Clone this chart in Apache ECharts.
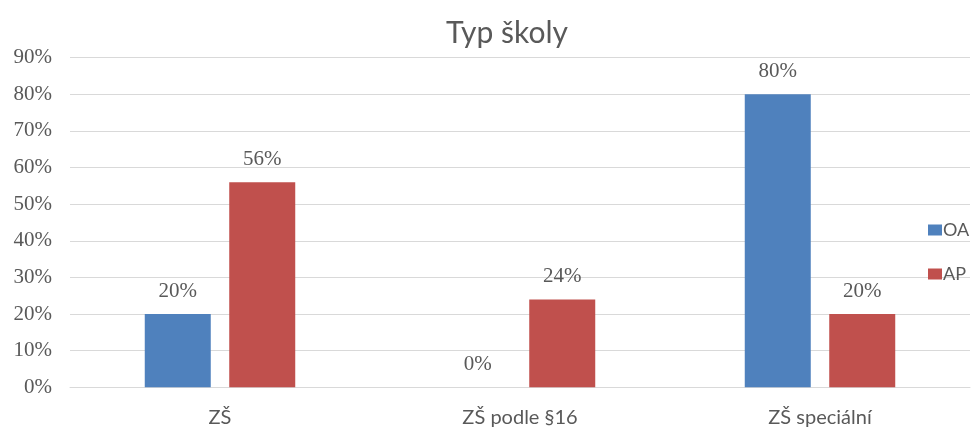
<!DOCTYPE html>
<html>
<head>
<meta charset="utf-8">
<script src="https://cdn.jsdelivr.net/npm/echarts@6/dist/echarts.min.js"></script>
<style>
  html, body { margin: 0; padding: 0; background: #fff; }
  #chart { width: 971px; height: 429px; }
</style>
</head>
<body>
<div id="chart"></div>
<script>
const categories = ["ZŠ", "ZŠ podle §16", "ZŠ speciální"];
const oaValues = [20, 0, 80];
const apValues = [56, 24, 20];
const seriesNames = ["OA", "AP"];

const textColor = "#595959";
const sansFont = "Lato";
const serifFont = "Liberation Serif";

const barLabel = {
  show: true,
  position: "top",
  distance: 12,
  color: textColor,
  fontFamily: serifFont,
  fontSize: 21,
  formatter: (p) => p.value + "%"
};

const chart = echarts.init(document.getElementById("chart"));
chart.setOption({
  animation: false,
  title: {
    text: "Typ školy",
    left: 441,
    top: 13,
    textStyle: {
      color: textColor,
      fontFamily: sansFont,
      fontWeight: "normal",
      fontSize: 30
    }
  },
  legend: {
    data: seriesNames,
    orient: "vertical",
    left: 923,
    top: 216,
    icon: "rect",
    itemWidth: 14,
    itemHeight: 11,
    itemGap: 26,
    textStyle: {
      color: textColor,
      fontFamily: sansFont,
      fontSize: 18,
      padding: [0, 0, 0, -4]
    }
  },
  grid: {
    left: 70,
    right: 1,
    top: 57.7,
    bottom: 41.7,
    containLabel: false
  },
  xAxis: {
    type: "category",
    data: categories,
    axisLine: { lineStyle: { color: "#D9D9D9", width: 1 } },
    axisTick: { show: false },
    axisLabel: {
      color: textColor,
      fontFamily: sansFont,
      fontSize: 20,
      margin: 20
    }
  },
  yAxis: {
    type: "value",
    min: 0,
    max: 90,
    interval: 10,
    axisLine: { show: false },
    axisTick: { show: false },
    splitLine: { lineStyle: { color: "#D9D9D9", width: 1 } },
    axisLabel: {
      color: textColor,
      fontFamily: serifFont,
      fontSize: 21,
      margin: 18,
      formatter: "{value}%"
    }
  },
  series: [
    {
      name: seriesNames[0],
      type: "bar",
      data: oaValues,
      barWidth: 66,
      barGap: "28%",
      itemStyle: { color: "#4F81BD" },
      label: barLabel
    },
    {
      name: seriesNames[1],
      type: "bar",
      data: apValues,
      barWidth: 66,
      barGap: "28%",
      itemStyle: { color: "#C0504D" },
      label: barLabel
    }
  ]
});
</script>
</body>
</html>
